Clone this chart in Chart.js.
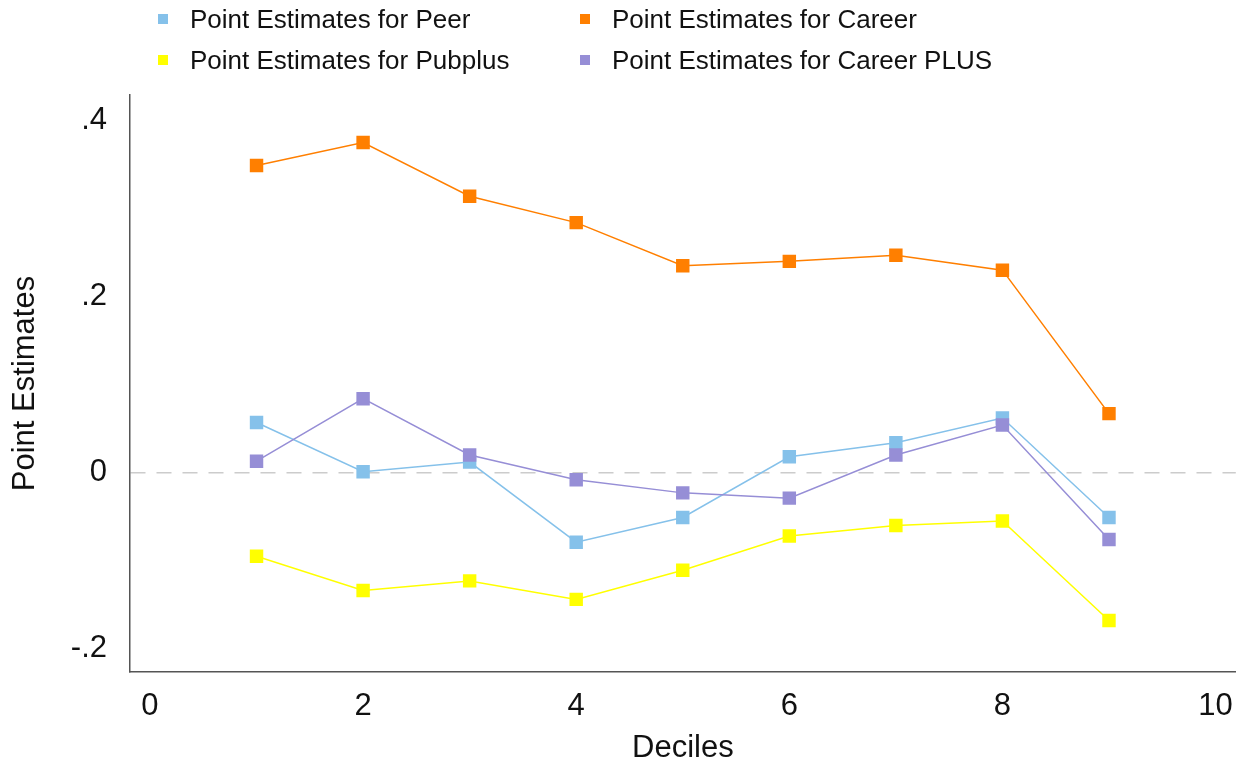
<!DOCTYPE html>
<html>
<head>
<meta charset="utf-8">
<script src="https://cdn.jsdelivr.net/npm/chart.js@4/dist/chart.umd.min.js"></script>
<style>
  html,body{margin:0;padding:0;background:#fff;}
  #wrap{position:relative;width:1249px;height:775px;}
  #chart{position:absolute;left:0;top:0;}
  .lg{position:absolute;font:26px "Liberation Sans",Arial,Helvetica,sans-serif;color:#111;white-space:nowrap;line-height:28px;}
  .lg i{position:absolute;left:-32px;top:9px;width:10px;height:10px;}
</style>
</head>
<body>
<div id="wrap">
  <canvas id="chart" width="1249" height="775"></canvas>
  <div id="legend"></div>
</div>
<script>
// ---- data ----
const deciles    = [1, 2, 3, 4, 5, 6, 7, 8, 9];
const peer       = [0.057, 0.001, 0.012, -0.079, -0.051, 0.018, 0.034, 0.062, -0.051];
const career     = [0.349, 0.375, 0.314, 0.284, 0.235, 0.240, 0.247, 0.230, 0.067];
const pubplus    = [-0.095, -0.134, -0.123, -0.144, -0.111, -0.072, -0.060, -0.055, -0.168];
const careerPlus = [0.013, 0.084, 0.020, -0.008, -0.023, -0.029, 0.020, 0.054, -0.076];

const xTicks = [0, 2, 4, 6, 8, 10];
const yTicks = [-0.2, 0, 0.2, 0.4];
const yTickLabels = ["-.2", "0", ".2", ".4"];

const SERIES = [
  { label:"Point Estimates for Peer",        data:peer,       color:"#85c1ea", order:3 },
  { label:"Point Estimates for Career",      data:career,     color:"#ff7f00", order:4 },
  { label:"Point Estimates for Pubplus",     data:pubplus,    color:"#ffff00", order:2 },
  { label:"Point Estimates for Career PLUS", data:careerPlus, color:"#968ed6", order:1 }
];

const FONT = '"Liberation Sans", Arial, Helvetica, sans-serif';

// legend: 2 x 2 grid, same order as the reference
const legendPos = [[190, 5], [612, 5], [190, 46], [612, 46]];
document.getElementById("legend").innerHTML = SERIES.map((s, i) =>
  `<div class="lg" style="left:${legendPos[i][0]}px;top:${legendPos[i][1]}px"><i style="background:${s.color}"></i>${s.label}</div>`
).join("");

new Chart(document.getElementById("chart"), {
  type: "line",
  data: {
    datasets: SERIES.map(s => ({
      label: s.label,
      data: deciles.map((d, i) => ({ x: d, y: s.data[i] })),
      borderColor: s.color,
      backgroundColor: s.color,
      borderWidth: 1.5,
      pointStyle: "rect",
      pointRadius: 9.5,
      pointBorderWidth: 0,
      tension: 0,
      order: s.order
    }))
  },
  options: {
    responsive: false,
    animation: false,
    layout: { padding: { top: 95, right: 12, left: 0, bottom: 0 } },
    plugins: { legend: { display: false }, tooltip: { enabled: false } },
    scales: {
      x: {
        type: "linear",
        min: -0.1875,
        max: 10.19,
        afterBuildTicks: sc => { sc.ticks = xTicks.map(v => ({ value: v })); },
        afterFit: sc => { sc.height = 103; },
        ticks: { color: "#111", font: { family: FONT, size: 31 }, padding: 16, maxRotation: 0 },
        grid: { display: false, drawTicks: false },
        border: { display: true, color: "#555", width: 1.5 },
        title: { display: true, text: "Deciles", color: "#111", font: { family: FONT, size: 31 }, padding: { top: 0, bottom: 8 } }
      },
      y: {
        min: -0.2265,
        max: 0.429,
        afterBuildTicks: sc => { sc.ticks = yTicks.map(v => ({ value: v })); },
        afterFit: sc => { sc.width = 130; },
        ticks: {
          color: "#111",
          font: { family: FONT, size: 31 },
          padding: 23,
          callback: v => yTickLabels[yTicks.indexOf(v)]
        },
        grid: {
          drawTicks: false,
          lineWidth: 1.5,
          color: c => (c.tick && c.tick.value === 0 ? "#cccccc" : "rgba(0,0,0,0)")
        },
        border: { display: true, color: "#555", width: 1.5, dash: [15, 11] },
        title: { display: true, text: "Point Estimates", color: "#111", font: { family: FONT, size: 31 }, padding: { top: 7, bottom: 0 } }
      }
    }
  }
});
</script>
</body>
</html>
